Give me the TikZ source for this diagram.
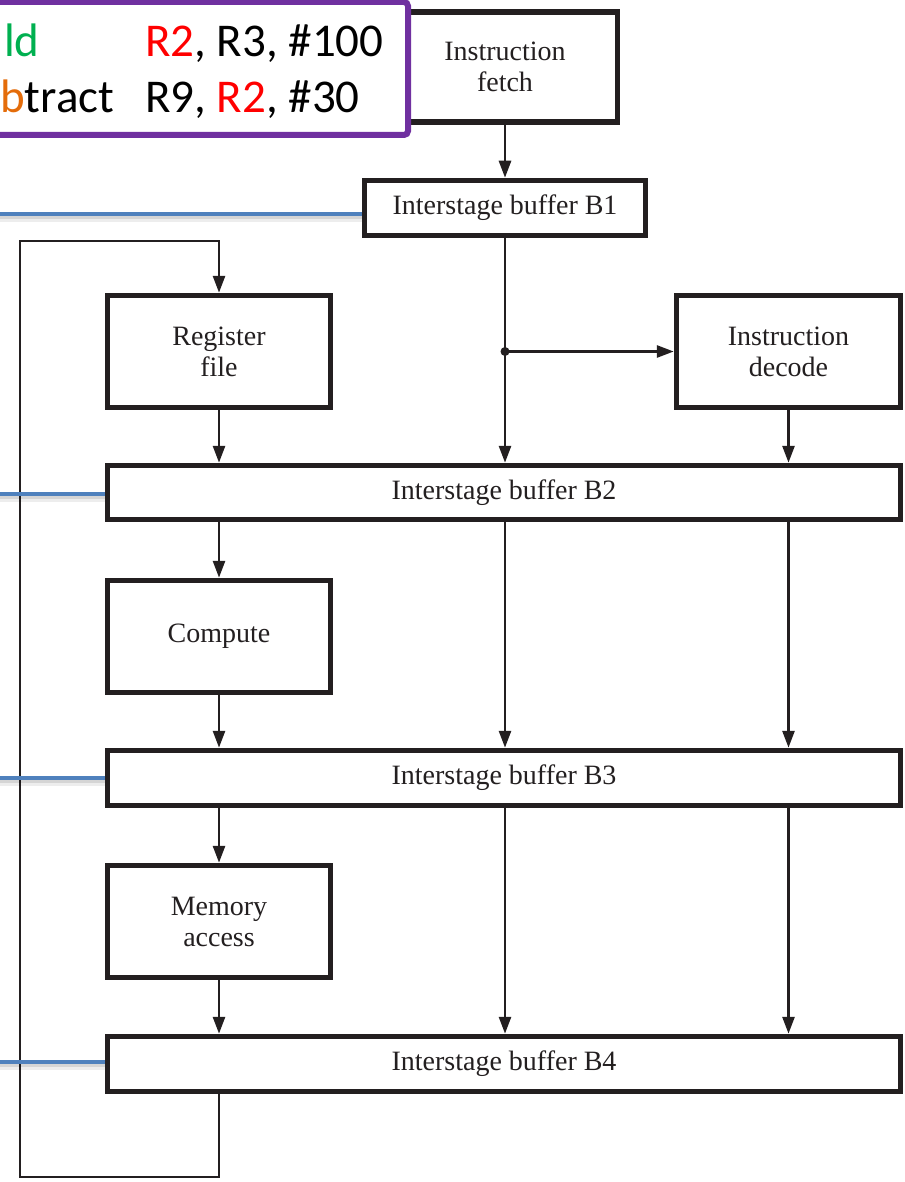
\documentclass[tikz,border=0pt]{standalone}
\usepackage{fontspec}
\setmainfont{Liberation Serif}
\newfontfamily\calib{Carlito}
\usetikzlibrary{arrows.meta}
\definecolor{ink}{HTML}{231F20}
\definecolor{pblue}{HTML}{4F81BD}
\definecolor{purp}{HTML}{7030A0}
\definecolor{grn}{HTML}{00B050}
\definecolor{org}{HTML}{E46C0A}
\definecolor{rd}{HTML}{FF0000}
\pgfdeclarelayer{bg}
\pgfsetlayers{bg,main}
\begin{document}
\begin{tikzpicture}[x=1pt,y=-1pt,
  box/.style={draw=ink, line width=5.5pt, fill=white, minimum width=223pt, minimum height=112pt,
    align=center, font=\fontsize{28}{31}\selectfont, text=ink, inner sep=0pt},
  buf/.style={box, minimum width=793pt, minimum height=54pt},
  arr/.style={draw=ink, line width=2.8pt, -{Triangle[length=17pt,width=12pt]}},
  tap/.style={draw=pblue, line width=4pt},
  tapsha/.style={draw=black, opacity=0.07, line width=9pt, transform canvas={yshift=-3.5pt}},
  tapshb/.style={draw=black, opacity=0.10, line width=5pt, transform canvas={yshift=-2.5pt}},
  cal/.style={font=\calib\fontsize{47}{52}\selectfont, inner sep=0pt, anchor=base west},
  ]
\useasboundingbox (0,0) rectangle (904,1182);

% boxes
\node[box, minimum width=225pt, minimum height=110pt] (fetch) at (505,67) {Instruction\\fetch};
\node[buf, minimum width=281pt, minimum height=55pt] (b1) at (505,208) {Interstage buffer B1};
\node[box] (rf) at (219,351.5) {Register\\file};
\node[box, minimum width=224pt] (dec) at (788.5,351.5) {Instruction\\decode};
\node[buf] (b2) at (504,492.5) {Interstage buffer B2};
\node[box] (comp) at (219,636.5) {Compute};
\node[buf, minimum height=55pt] (b3) at (504,778) {Interstage buffer B3};
\node[box] (mem) at (219,921.5) {Memory\\access};
\node[buf, minimum height=55pt] (b4) at (504,1064) {Interstage buffer B4};

% feedback loop and blue taps (behind boxes)
\coordinate (lt) at (20,241);
\coordinate (lb) at (20,1177);
\coordinate (t1) at (0,214);
\coordinate (t2) at (0,494);
\coordinate (t3) at (0,778);
\coordinate (t4) at (0,1062);
\begin{pgfonlayer}{bg}
  \draw[arr] (b4.south -| rf) |- (lb) -- (lt) -| (rf.north);
  \foreach \t/\b in {t1/b1,t2/b2,t3/b3,t4/b4}{
    \draw[tapsha] (\t) -- (\b.west |- \t);
    \draw[tapshb] (\t) -- (\b.west |- \t);
    \draw[tap] (\t) -- (\b.west |- \t);
  }
\end{pgfonlayer}

% arrows
\draw[arr] (fetch.south) -- (b1.north);
\coordinate (j) at (505,351.5);
\draw[arr] (b1.south) -- (b1.south |- b2.north);
\fill[ink] (j) circle (4.5pt);
\draw[arr] (j) -- (dec.west);
\draw[arr] (rf.south) -- (rf.south |- b2.north);
\draw[arr] (dec.south) -- (dec.south |- b2.north);
\draw[arr] (b2.south -| rf) -- (comp.north);
\draw[arr] (b2.south -| b1.south) -- (b3.north -| b1.south);
\draw[arr] (b2.south -| dec.south) -- (b3.north -| dec.south);
\draw[arr] (comp.south) -- (comp.south |- b3.north);
\draw[arr] (b3.south -| rf) -- (mem.north);
\draw[arr] (b3.south -| b1.south) -- (b4.north -| b1.south);
\draw[arr] (b3.south -| dec.south) -- (b4.north -| dec.south);
\draw[arr] (mem.south) -- (mem.south |- b4.north);

% instruction box
\draw[purp, line width=6pt, rounded corners=4pt, fill=white] (-20,2) rectangle (408,135);
\node[cal, text=grn] (a1) at (4,57) {ld};
\node[cal] (a2) at (145,57) {\textcolor{rd}{R2}, R3, \#100};
\node[cal] (s1) at (0,113) {\textcolor{org}{b}tract};
\node[cal] (s2) at (145,113) {R9, \textcolor{rd}{R2}, \#30};
\end{tikzpicture}
\end{document}
